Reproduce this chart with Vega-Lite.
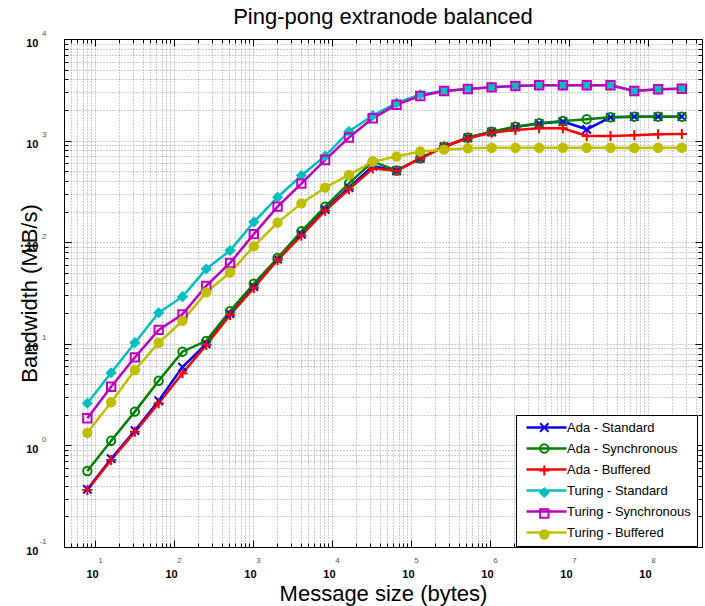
{
  "$schema": "https://vega.github.io/schema/vega-lite/v6.json",
  "autosize": {"type": "none"},
  "width": 638,
  "height": 508,
  "padding": {"left": 64, "top": 39, "right": 3, "bottom": 59},
  "background": "white",
  "title": {"text": "Ping-pong extranode balanced", "fontSize": 22, "font": "Liberation Sans", "fontWeight": "normal", "anchor": "middle", "offset": 0, "color": "black"},
  "config": {
    "view": {"stroke": "black", "strokeWidth": 1},
    "axis": {"labelFont": "Liberation Sans", "titleFont": "Liberation Sans", "domainColor": "black", "tickColor": "black", "gridColor": "#9a9a9a", "gridDash": [1, 2], "gridWidth": 1, "labelColor": "black", "labelFlush": false, "labelOverlap": false},
    "legend": {"labelFont": "Liberation Sans"}
  },
  "datasets": {
    "bw": [
      {"series": "Ada - Standard", "size": 8, "bw": 0.37},
      {"series": "Ada - Standard", "size": 16, "bw": 0.74},
      {"series": "Ada - Standard", "size": 32, "bw": 1.40},
      {"series": "Ada - Standard", "size": 64, "bw": 2.75},
      {"series": "Ada - Standard", "size": 128, "bw": 5.9},
      {"series": "Ada - Standard", "size": 256, "bw": 10.0},
      {"series": "Ada - Standard", "size": 512, "bw": 19.8},
      {"series": "Ada - Standard", "size": 1024, "bw": 36.5},
      {"series": "Ada - Standard", "size": 2048, "bw": 68},
      {"series": "Ada - Standard", "size": 4096, "bw": 120},
      {"series": "Ada - Standard", "size": 8192, "bw": 210},
      {"series": "Ada - Standard", "size": 16384, "bw": 345},
      {"series": "Ada - Standard", "size": 32768, "bw": 560},
      {"series": "Ada - Standard", "size": 65536, "bw": 505},
      {"series": "Ada - Standard", "size": 131072, "bw": 670},
      {"series": "Ada - Standard", "size": 262144, "bw": 870},
      {"series": "Ada - Standard", "size": 524288, "bw": 1065},
      {"series": "Ada - Standard", "size": 1048576, "bw": 1215},
      {"series": "Ada - Standard", "size": 2097152, "bw": 1360},
      {"series": "Ada - Standard", "size": 4194304, "bw": 1470},
      {"series": "Ada - Standard", "size": 8388608, "bw": 1540},
      {"series": "Ada - Standard", "size": 16777216, "bw": 1292},
      {"series": "Ada - Standard", "size": 33554432, "bw": 1696},
      {"series": "Ada - Standard", "size": 67108864, "bw": 1719},
      {"series": "Ada - Standard", "size": 134217728, "bw": 1719},
      {"series": "Ada - Standard", "size": 268435456, "bw": 1719},
      {"series": "Ada - Synchronous", "size": 8, "bw": 0.56},
      {"series": "Ada - Synchronous", "size": 16, "bw": 1.11},
      {"series": "Ada - Synchronous", "size": 32, "bw": 2.15},
      {"series": "Ada - Synchronous", "size": 64, "bw": 4.33},
      {"series": "Ada - Synchronous", "size": 128, "bw": 8.36},
      {"series": "Ada - Synchronous", "size": 256, "bw": 10.7},
      {"series": "Ada - Synchronous", "size": 512, "bw": 21.0},
      {"series": "Ada - Synchronous", "size": 1024, "bw": 39.0},
      {"series": "Ada - Synchronous", "size": 2048, "bw": 69.9},
      {"series": "Ada - Synchronous", "size": 4096, "bw": 128},
      {"series": "Ada - Synchronous", "size": 8192, "bw": 224},
      {"series": "Ada - Synchronous", "size": 16384, "bw": 380},
      {"series": "Ada - Synchronous", "size": 32768, "bw": 620},
      {"series": "Ada - Synchronous", "size": 65536, "bw": 508},
      {"series": "Ada - Synchronous", "size": 131072, "bw": 670},
      {"series": "Ada - Synchronous", "size": 262144, "bw": 865},
      {"series": "Ada - Synchronous", "size": 524288, "bw": 1073},
      {"series": "Ada - Synchronous", "size": 1048576, "bw": 1224},
      {"series": "Ada - Synchronous", "size": 2097152, "bw": 1370},
      {"series": "Ada - Synchronous", "size": 4194304, "bw": 1480},
      {"series": "Ada - Synchronous", "size": 8388608, "bw": 1559},
      {"series": "Ada - Synchronous", "size": 16777216, "bw": 1621},
      {"series": "Ada - Synchronous", "size": 33554432, "bw": 1696},
      {"series": "Ada - Synchronous", "size": 67108864, "bw": 1719},
      {"series": "Ada - Synchronous", "size": 134217728, "bw": 1719},
      {"series": "Ada - Synchronous", "size": 268435456, "bw": 1719},
      {"series": "Ada - Buffered", "size": 8, "bw": 0.364},
      {"series": "Ada - Buffered", "size": 16, "bw": 0.718},
      {"series": "Ada - Buffered", "size": 32, "bw": 1.36},
      {"series": "Ada - Buffered", "size": 64, "bw": 2.60},
      {"series": "Ada - Buffered", "size": 128, "bw": 5.12},
      {"series": "Ada - Buffered", "size": 256, "bw": 9.73},
      {"series": "Ada - Buffered", "size": 512, "bw": 19.2},
      {"series": "Ada - Buffered", "size": 1024, "bw": 35.4},
      {"series": "Ada - Buffered", "size": 2048, "bw": 66.8},
      {"series": "Ada - Buffered", "size": 4096, "bw": 116},
      {"series": "Ada - Buffered", "size": 8192, "bw": 204},
      {"series": "Ada - Buffered", "size": 16384, "bw": 332},
      {"series": "Ada - Buffered", "size": 32768, "bw": 531},
      {"series": "Ada - Buffered", "size": 65536, "bw": 505},
      {"series": "Ada - Buffered", "size": 131072, "bw": 670},
      {"series": "Ada - Buffered", "size": 262144, "bw": 875},
      {"series": "Ada - Buffered", "size": 524288, "bw": 1053},
      {"series": "Ada - Buffered", "size": 1048576, "bw": 1196},
      {"series": "Ada - Buffered", "size": 2097152, "bw": 1272},
      {"series": "Ada - Buffered", "size": 4194304, "bw": 1322},
      {"series": "Ada - Buffered", "size": 8388608, "bw": 1322},
      {"series": "Ada - Buffered", "size": 16777216, "bw": 1110},
      {"series": "Ada - Buffered", "size": 33554432, "bw": 1110},
      {"series": "Ada - Buffered", "size": 67108864, "bw": 1128},
      {"series": "Ada - Buffered", "size": 134217728, "bw": 1153},
      {"series": "Ada - Buffered", "size": 268435456, "bw": 1161},
      {"series": "Turing - Standard", "size": 8, "bw": 2.60},
      {"series": "Turing - Standard", "size": 16, "bw": 5.19},
      {"series": "Turing - Standard", "size": 32, "bw": 10.25},
      {"series": "Turing - Standard", "size": 64, "bw": 20.2},
      {"series": "Turing - Standard", "size": 128, "bw": 29.1},
      {"series": "Turing - Standard", "size": 256, "bw": 54.5},
      {"series": "Turing - Standard", "size": 512, "bw": 82.9},
      {"series": "Turing - Standard", "size": 1024, "bw": 158},
      {"series": "Turing - Standard", "size": 2048, "bw": 277},
      {"series": "Turing - Standard", "size": 4096, "bw": 453},
      {"series": "Turing - Standard", "size": 8192, "bw": 705},
      {"series": "Turing - Standard", "size": 16384, "bw": 1229},
      {"series": "Turing - Standard", "size": 32768, "bw": 1766},
      {"series": "Turing - Standard", "size": 65536, "bw": 2345},
      {"series": "Turing - Standard", "size": 131072, "bw": 2842},
      {"series": "Turing - Standard", "size": 262144, "bw": 3077},
      {"series": "Turing - Standard", "size": 524288, "bw": 3220},
      {"series": "Turing - Standard", "size": 1048576, "bw": 3346},
      {"series": "Turing - Standard", "size": 2097152, "bw": 3446},
      {"series": "Turing - Standard", "size": 4194304, "bw": 3502},
      {"series": "Turing - Standard", "size": 8388608, "bw": 3502},
      {"series": "Turing - Standard", "size": 16777216, "bw": 3502},
      {"series": "Turing - Standard", "size": 33554432, "bw": 3502},
      {"series": "Turing - Standard", "size": 67108864, "bw": 3077},
      {"series": "Turing - Standard", "size": 134217728, "bw": 3198},
      {"series": "Turing - Standard", "size": 268435456, "bw": 3242},
      {"series": "Turing - Synchronous", "size": 8, "bw": 1.85},
      {"series": "Turing - Synchronous", "size": 16, "bw": 3.78},
      {"series": "Turing - Synchronous", "size": 32, "bw": 7.36},
      {"series": "Turing - Synchronous", "size": 64, "bw": 13.7},
      {"series": "Turing - Synchronous", "size": 128, "bw": 19.5},
      {"series": "Turing - Synchronous", "size": 256, "bw": 37.1},
      {"series": "Turing - Synchronous", "size": 512, "bw": 62.4},
      {"series": "Turing - Synchronous", "size": 1024, "bw": 120},
      {"series": "Turing - Synchronous", "size": 2048, "bw": 224},
      {"series": "Turing - Synchronous", "size": 4096, "bw": 377},
      {"series": "Turing - Synchronous", "size": 8192, "bw": 645},
      {"series": "Turing - Synchronous", "size": 16384, "bw": 1073},
      {"series": "Turing - Synchronous", "size": 32768, "bw": 1658},
      {"series": "Turing - Synchronous", "size": 65536, "bw": 2256},
      {"series": "Turing - Synchronous", "size": 131072, "bw": 2748},
      {"series": "Turing - Synchronous", "size": 262144, "bw": 3077},
      {"series": "Turing - Synchronous", "size": 524288, "bw": 3220},
      {"series": "Turing - Synchronous", "size": 1048576, "bw": 3346},
      {"series": "Turing - Synchronous", "size": 2097152, "bw": 3446},
      {"series": "Turing - Synchronous", "size": 4194304, "bw": 3502},
      {"series": "Turing - Synchronous", "size": 8388608, "bw": 3502},
      {"series": "Turing - Synchronous", "size": 16777216, "bw": 3502},
      {"series": "Turing - Synchronous", "size": 33554432, "bw": 3502},
      {"series": "Turing - Synchronous", "size": 67108864, "bw": 3077},
      {"series": "Turing - Synchronous", "size": 134217728, "bw": 3198},
      {"series": "Turing - Synchronous", "size": 268435456, "bw": 3242},
      {"series": "Turing - Buffered", "size": 8, "bw": 1.33},
      {"series": "Turing - Buffered", "size": 16, "bw": 2.66},
      {"series": "Turing - Buffered", "size": 32, "bw": 5.52},
      {"series": "Turing - Buffered", "size": 64, "bw": 10.25},
      {"series": "Turing - Buffered", "size": 128, "bw": 16.8},
      {"series": "Turing - Buffered", "size": 256, "bw": 32.1},
      {"series": "Turing - Buffered", "size": 512, "bw": 50.3},
      {"series": "Turing - Buffered", "size": 1024, "bw": 91.1},
      {"series": "Turing - Buffered", "size": 2048, "bw": 156},
      {"series": "Turing - Buffered", "size": 4096, "bw": 241},
      {"series": "Turing - Buffered", "size": 8192, "bw": 344},
      {"series": "Turing - Buffered", "size": 16384, "bw": 459},
      {"series": "Turing - Buffered", "size": 32768, "bw": 620},
      {"series": "Turing - Buffered", "size": 65536, "bw": 697},
      {"series": "Turing - Buffered", "size": 131072, "bw": 781},
      {"series": "Turing - Buffered", "size": 262144, "bw": 814},
      {"series": "Turing - Buffered", "size": 524288, "bw": 840},
      {"series": "Turing - Buffered", "size": 1048576, "bw": 851},
      {"series": "Turing - Buffered", "size": 2097152, "bw": 851},
      {"series": "Turing - Buffered", "size": 4194304, "bw": 851},
      {"series": "Turing - Buffered", "size": 8388608, "bw": 851},
      {"series": "Turing - Buffered", "size": 16777216, "bw": 851},
      {"series": "Turing - Buffered", "size": 33554432, "bw": 851},
      {"series": "Turing - Buffered", "size": 67108864, "bw": 845},
      {"series": "Turing - Buffered", "size": 134217728, "bw": 851},
      {"series": "Turing - Buffered", "size": 268435456, "bw": 851}
    ]
  },
  "data": {"name": "bw"},
  "resolve": {"axis": {"x": "independent", "y": "independent"}, "legend": {"stroke": "independent", "shape": "independent", "fill": "independent"}},
  "layer": [
    {
      "mark": {"type": "point", "opacity": 0},
      "encoding": {
        "x": {"field": "size", "type": "quantitative", "scale": {"type": "log", "domain": [4.05, 483000000], "nice": false},
          "axis": {"orient": "bottom", "values": [5,6,7,8,9,20,30,40,50,60,70,80,90,200,300,400,500,600,700,800,900,2000,3000,4000,5000,6000,7000,8000,9000,20000,30000,40000,50000,60000,70000,80000,90000,200000,300000,400000,500000,600000,700000,800000,900000,2000000,3000000,4000000,5000000,6000000,7000000,8000000,9000000,20000000,30000000,40000000,50000000,60000000,70000000,80000000,90000000,200000000,300000000,400000000], "labels": false, "tickSize": -4, "grid": true, "domain": false, "title": null}},
        "y": {"field": "bw", "type": "quantitative", "scale": {"type": "log", "domain": [0.1, 10000], "nice": false},
          "axis": {"orient": "left", "values": [0.2,0.3,0.4,0.5,0.6,0.7,0.8,0.9,2,3,4,5,6,7,8,9,20,30,40,50,60,70,80,90,200,300,400,500,600,700,800,900,2000,3000,4000,5000,6000,7000,8000,9000], "labels": false, "tickSize": -4, "grid": true, "domain": false, "title": null}}
      }
    },
    {
      "mark": {"type": "point", "opacity": 0},
      "encoding": {
        "x": {"field": "size", "type": "quantitative",
          "axis": {"orient": "top", "values": [5,6,7,8,9,20,30,40,50,60,70,80,90,200,300,400,500,600,700,800,900,2000,3000,4000,5000,6000,7000,8000,9000,20000,30000,40000,50000,60000,70000,80000,90000,200000,300000,400000,500000,600000,700000,800000,900000,2000000,3000000,4000000,5000000,6000000,7000000,8000000,9000000,20000000,30000000,40000000,50000000,60000000,70000000,80000000,90000000,200000000,300000000,400000000], "labels": false, "tickSize": -4, "grid": false, "domain": false, "title": null}},
        "y": {"field": "bw", "type": "quantitative",
          "axis": {"orient": "right", "values": [0.2,0.3,0.4,0.5,0.6,0.7,0.8,0.9,2,3,4,5,6,7,8,9,20,30,40,50,60,70,80,90,200,300,400,500,600,700,800,900,2000,3000,4000,5000,6000,7000,8000,9000], "labels": false, "tickSize": -4, "grid": false, "domain": false, "title": null}}
      }
    },
    {
      "mark": {"type": "point", "opacity": 0},
      "encoding": {
        "x": {"field": "size", "type": "quantitative",
          "axis": {"orient": "bottom", "values": [10,100,1000,10000,100000,1000000,10000000,100000000], "ticks": false, "grid": false, "domain": false, "labelExpr": "round(log(datum.value)/LN10) + ''", "labelFontSize": 8, "labelColor": "#555555", "labelPadding": 9, "labelOffset": 5, "labelBaseline": "top", "title": null}},
        "y": {"field": "bw", "type": "quantitative",
          "axis": {"orient": "left", "values": [0.1,1,10,100,1000,10000], "ticks": false, "grid": false, "domain": false, "labelExpr": "round(log(datum.value)/LN10) + ''", "labelFontSize": 8, "labelColor": "#555555", "labelPadding": 18, "labelOffset": -6, "labelBaseline": "middle", "title": null}}
      }
    },
    {
      "mark": {"type": "point", "opacity": 0},
      "encoding": {
        "x": {"field": "size", "type": "quantitative",
          "axis": {"orient": "top", "values": [10,100,1000,10000,100000,1000000,10000000,100000000], "labels": false, "tickSize": -7, "grid": false, "domain": true, "title": null}},
        "y": {"field": "bw", "type": "quantitative",
          "axis": {"orient": "right", "values": [0.1,1,10,100,1000,10000], "labels": false, "tickSize": -7, "grid": false, "domain": true, "title": null}}
      }
    },
    {
      "mark": {"type": "line", "strokeWidth": 2.5},
      "encoding": {
        "x": {"field": "size", "type": "quantitative",
          "axis": {"orient": "bottom", "values": [10,100,1000,10000,100000,1000000,10000000,100000000], "tickSize": -7, "grid": true, "domain": true, "labelExpr": "'10'", "labelFontSize": 11, "labelFontWeight": "bold", "labelPadding": 28, "labelOffset": -3, "labelBaseline": "top",
            "title": "Message size (bytes)", "titleFontSize": 22, "titleFontWeight": "normal", "titleBaseline": "alphabetic", "titleY": 53, "titleX": 319, "titleColor": "black"}},
        "y": {"field": "bw", "type": "quantitative",
          "axis": {"orient": "left", "values": [0.1,1,10,100,1000,10000], "tickSize": -7, "grid": true, "domain": true, "labelExpr": "'10'", "labelFontSize": 11, "labelFontWeight": "bold", "labelPadding": 33, "labelOffset": 4, "labelBaseline": "middle",
            "title": "Bandwidth (MiB/s)", "titleFontSize": 22, "titleFontWeight": "normal", "titleBaseline": "alphabetic", "titleAngle": -90, "titleX": -28, "titleY": 254, "titleColor": "black"}},
        "stroke": {"field": "series", "type": "nominal",
          "scale": {"domain": ["Ada - Standard", "Ada - Synchronous", "Ada - Buffered", "Turing - Standard", "Turing - Synchronous", "Turing - Buffered"], "range": ["#0000ff", "#008000", "#ff0000", "#00bfbf", "#bf00bf", "#bfbf00"]},
          "legend": {"orient": "none", "legendX": 452, "legendY": 376, "title": null, "symbolType": "M-10,0L10,0", "symbolSize": 16, "symbolOffset": 18, "symbolStrokeWidth": 2.5, "labelFontSize": 13, "labelOffset": 14, "padding": 6, "rowPadding": 7, "strokeColor": "black", "fillColor": "white", "cornerRadius": 0, "labelColor": "black"}},
        "order": {"field": "size", "type": "quantitative"}
      }
    },
    {
      "mark": {"type": "point", "filled": false, "strokeWidth": 2, "size": 70, "opacity": 1},
      "encoding": {
        "x": {"field": "size", "type": "quantitative", "axis": null},
        "y": {"field": "bw", "type": "quantitative", "axis": null},
        "stroke": {"field": "series", "type": "nominal",
          "legend": {"orient": "none", "legendX": 452, "legendY": 376, "title": null, "symbolStrokeWidth": 2, "symbolSize": 70, "symbolOffset": 15.8, "labelFontSize": 13, "labelOffset": 4, "padding": 6, "rowPadding": 4, "labelOpacity": 0, "strokeColor": null, "fillColor": null}},
        "shape": {"field": "series", "type": "nominal",
          "scale": {"domain": ["Ada - Standard", "Ada - Synchronous", "Ada - Buffered", "Turing - Standard", "Turing - Synchronous", "Turing - Buffered"], "range": ["M-1,-1L1,1M-1,1L1,-1", "circle", "M-1.2,0L1.2,0M0,-1.2L0,1.2", "diamond", "square", "circle"]},
          "legend": {"orient": "none", "legendX": 452, "legendY": 376, "title": null, "symbolStrokeWidth": 2, "symbolSize": 70, "symbolOffset": 15.8, "labelFontSize": 13, "labelOffset": 4, "padding": 6, "rowPadding": 4, "labelOpacity": 0, "strokeColor": null, "fillColor": null}},
        "fill": {"field": "series", "type": "nominal",
          "scale": {"domain": ["Ada - Standard", "Ada - Synchronous", "Ada - Buffered", "Turing - Standard", "Turing - Synchronous", "Turing - Buffered"], "range": ["transparent", "transparent", "transparent", "#00bfbf", "transparent", "#bfbf00"]},
          "legend": {"orient": "none", "legendX": 452, "legendY": 376, "title": null, "symbolStrokeWidth": 2, "symbolSize": 70, "symbolOffset": 15.8, "labelFontSize": 13, "labelOffset": 4, "padding": 6, "rowPadding": 4, "labelOpacity": 0, "strokeColor": null, "fillColor": null}}
      }
    }
  ]
}
